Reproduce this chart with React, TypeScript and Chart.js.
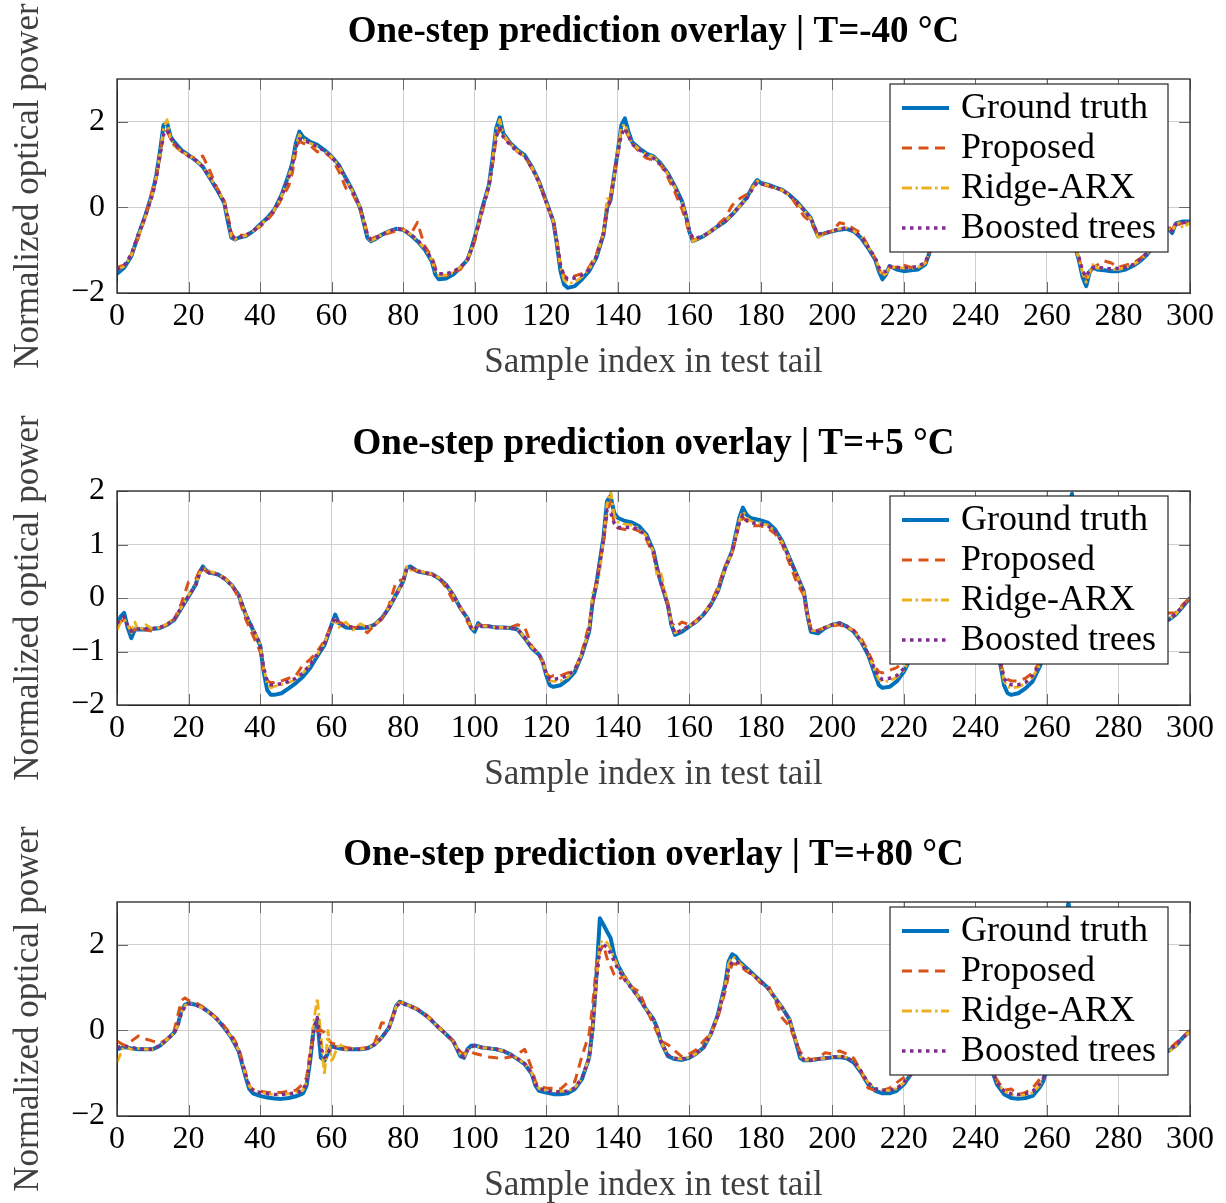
import React, { useEffect, useRef } from 'react';
import { Chart, registerables } from 'chart.js';
Chart.register(...registerables);

const FONT = "'Liberation Serif', 'Times New Roman', serif";
const SERIES_LABELS = ['Ground truth', 'Proposed', 'Ridge-ARX', 'Boosted trees'];
const SERIES_COLORS = ['#0072BD', '#D95319', '#EDB120', '#7E2F8E'];
const SERIES_WIDTHS = [4, 3, 2.8, 3.5];
const SERIES_DASHES: number[][] = [[], [10, 6.5], [10, 3.5, 2.5, 3.5], [3.5, 4.5]];
const X_TICKS = [0, 20, 40, 60, 80, 100, 120, 140, 160, 180, 200, 220, 240, 260, 280, 300];
const Y_TICKS_WIDE = [-2, 0, 2];
const Y_TICKS_NARROW = [-2, -1, 0, 1, 2];
const TITLES = [
  'One-step prediction overlay | T=-40 °C',
  'One-step prediction overlay | T=+5 °C',
  'One-step prediction overlay | T=+80 °C',
];
const X_LABEL = 'Sample index in test tail';
const Y_LABEL = 'Normalized optical power';

// ---------- Panel 1 : T = -40 C ----------
const p1X = [
  0, 2, 4, 6, 8, 10, 11, 12, 13, 14,
  15, 16, 18, 20, 22, 24, 26, 28, 30, 31,
  32, 33, 34, 36, 38, 40, 42, 44, 46, 48,
  49, 50, 51, 52, 54, 56, 58, 60, 62, 64,
  66, 68, 69, 70, 71, 72, 74, 76, 78, 80,
  82, 84, 86, 88, 89, 90, 92, 94, 96, 98,
  99, 100, 101, 102, 104, 105, 106, 107, 108, 110,
  112, 114, 116, 118, 120, 122, 123, 124, 125, 126,
  128, 130, 132, 134, 136, 137, 138, 139, 140, 141,
  142, 143, 144, 146, 148, 150, 152, 154, 156, 158,
  159, 160, 161, 162, 164, 166, 168, 170, 172, 174,
  176, 178, 179, 180, 182, 184, 186, 188, 190, 192,
  194, 195, 196, 198, 200, 202, 204, 206, 208, 210,
  212, 213, 214, 215, 216, 218, 220, 222, 224, 226,
  227, 228, 230, 232, 234, 236, 238, 240, 242, 244,
  246, 248, 250, 252, 254, 256, 258, 260, 262, 264,
  266, 268, 269, 270, 271, 272, 273, 274, 276, 278,
  280, 282, 284, 286, 288, 290, 292, 294, 295, 296,
  297, 298, 300,
];
const p1Truth = [
  -1.55, -1.41, -1.14, -0.64, -0.17, 0.37, 0.76, 1.30, 1.92, 1.98,
  1.65, 1.53, 1.34, 1.22, 1.10, 0.95, 0.68, 0.41, 0.10, -0.33,
  -0.71, -0.75, -0.71, -0.67, -0.56, -0.40, -0.25, -0.05, 0.29, 0.76,
  1.03, 1.50, 1.77, 1.65, 1.53, 1.46, 1.34, 1.19, 0.99, 0.68,
  0.37, -0.02, -0.36, -0.71, -0.79, -0.75, -0.64, -0.56, -0.50, -0.52,
  -0.64, -0.79, -0.98, -1.26, -1.57, -1.68, -1.66, -1.57, -1.41, -1.22,
  -0.98, -0.70, -0.40, -0.05, 0.53, 1.15, 1.84, 2.10, 1.73, 1.50,
  1.34, 1.22, 0.95, 0.60, 0.14, -0.33, -0.87, -1.49, -1.80, -1.88,
  -1.84, -1.68, -1.49, -1.18, -0.64, -0.02, 0.18, 0.76, 1.30, 1.92,
  2.08, 1.77, 1.53, 1.38, 1.26, 1.19, 1.03, 0.80, 0.49, 0.14,
  -0.17, -0.56, -0.79, -0.75, -0.67, -0.56, -0.44, -0.33, -0.17, 0.02,
  0.22, 0.53, 0.64, 0.57, 0.53, 0.47, 0.41, 0.29, 0.14, -0.05,
  -0.25, -0.48, -0.67, -0.60, -0.56, -0.52, -0.50, -0.56, -0.71, -0.95,
  -1.22, -1.49, -1.68, -1.57, -1.37, -1.45, -1.49, -1.47, -1.45, -1.33,
  -1.10, -0.80, -0.20, 0.50, 1.20, 1.60, 1.40, 1.20, 1.00, 0.70,
  0.30, -0.10, -0.40, -0.60, -0.60, -0.55, -0.50, -0.45, -0.50, -0.60,
  -0.75, -0.95, -1.26, -1.64, -1.84, -1.49, -1.41, -1.45, -1.47, -1.49,
  -1.49, -1.45, -1.37, -1.26, -1.10, -0.87, -0.65, -0.50, -0.60, -0.38,
  -0.35, -0.33, -0.33,
];
const p1Proposed = [
  -1.40, -1.35, -1.10, -0.70, -0.20, 0.45, 0.70, 1.20, 1.70, 1.80,
  1.60, 1.45, 1.30, 1.20, 1.15, 1.20, 0.85, 0.45, 0.15, -0.20,
  -0.60, -0.75, -0.65, -0.65, -0.55, -0.45, -0.30, -0.10, 0.20, 0.50,
  0.80, 1.30, 1.55, 1.50, 1.45, 1.30, 1.30, 1.15, 0.85, 0.45,
  0.30, -0.05, -0.30, -0.60, -0.75, -0.70, -0.65, -0.60, -0.55, -0.50,
  -0.65, -0.35, -0.90, -1.15, -1.40, -1.55, -1.60, -1.50, -1.45, -1.20,
  -1.05, -0.80, -0.45, -0.15, 0.50, 1.00, 1.60, 1.85, 1.65, 1.50,
  1.30, 1.20, 0.90, 0.60, 0.10, -0.30, -0.80, -1.35, -1.60, -1.65,
  -1.60, -1.55, -1.40, -1.10, -0.60, -0.10, 0.30, 0.75, 1.30, 1.80,
  1.85, 1.65, 1.50, 1.30, 1.15, 1.10, 1.00, 0.70, 0.35, -0.05,
  -0.30, -0.60, -0.75, -0.75, -0.70, -0.55, -0.40, -0.25, 0.05, 0.20,
  0.30, 0.50, 0.60, 0.55, 0.50, 0.45, 0.40, 0.30, 0.05, -0.20,
  -0.35, -0.50, -0.65, -0.60, -0.55, -0.36, -0.40, -0.50, -0.60, -0.90,
  -1.20, -1.45, -1.55, -1.50, -1.40, -1.40, -1.35, -1.40, -1.40, -1.30,
  -1.10, -0.85, -0.30, 0.40, 1.10, 1.50, 1.35, 1.15, 0.95, 0.65,
  0.30, -0.10, -0.40, -0.55, -0.60, -0.55, -0.50, -0.45, -0.50, -0.60,
  -0.70, -0.90, -1.20, -1.50, -1.65, -1.50, -1.40, -1.35, -1.25, -1.30,
  -1.40, -1.35, -1.30, -1.20, -1.05, -0.85, -0.60, -0.45, -0.55, -0.35,
  -0.40, -0.35, -0.35,
];
const p1Ridge = [
  -1.45, -1.38, -1.12, -0.66, -0.20, 0.33, 0.72, 1.25, 1.85, 2.05,
  1.60, 1.45, 1.30, 1.22, 1.10, 0.96, 0.70, 0.45, 0.12, -0.28,
  -0.68, -0.75, -0.70, -0.66, -0.56, -0.42, -0.26, -0.06, 0.26, 0.72,
  1.00, 1.45, 1.70, 1.60, 1.50, 1.42, 1.32, 1.18, 0.97, 0.66,
  0.36, 0.00, -0.32, -0.68, -0.78, -0.74, -0.64, -0.56, -0.50, -0.52,
  -0.62, -0.78, -0.96, -1.22, -1.50, -1.60, -1.58, -1.52, -1.40, -1.22,
  -1.00, -0.72, -0.42, -0.08, 0.50, 1.10, 1.80, 2.05, 1.70, 1.48,
  1.32, 1.20, 0.94, 0.58, 0.12, -0.32, -0.84, -1.40, -1.70, -1.78,
  -1.75, -1.62, -1.45, -1.15, -0.62, 0.20, 0.20, 0.74, 1.28, 1.88,
  1.95, 1.70, 1.50, 1.36, 1.24, 1.18, 1.02, 0.78, 0.47, 0.12,
  -0.18, -0.55, -0.80, -0.74, -0.66, -0.56, -0.44, -0.33, -0.16, 0.02,
  0.22, 0.50, 0.62, 0.56, 0.52, 0.46, 0.40, 0.28, 0.12, -0.06,
  -0.26, -0.46, -0.70, -0.60, -0.55, -0.50, -0.48, -0.55, -0.68, -0.92,
  -1.18, -1.42, -1.60, -1.55, -1.40, -1.40, -1.42, -1.42, -1.40, -1.30,
  -1.08, -0.80, -0.22, 0.48, 1.15, 1.55, 1.38, 1.18, 0.98, 0.68,
  0.28, -0.10, -0.40, -0.58, -0.60, -0.55, -0.50, -0.45, -0.50, -0.60,
  -0.74, -0.94, -1.22, -1.55, -1.75, -1.50, -1.30, -1.42, -1.42, -1.45,
  -1.45, -1.40, -1.35, -1.24, -1.08, -0.86, -0.64, -0.50, -0.56, -0.40,
  -0.36, -0.48, -0.35,
];
const p1Boosted = [
  -1.45, -1.36, -1.10, -0.62, -0.18, 0.32, 0.70, 1.20, 1.70, 1.80,
  1.62, 1.50, 1.32, 1.20, 1.10, 0.95, 0.70, 0.42, 0.12, -0.28,
  -0.66, -0.72, -0.70, -0.65, -0.56, -0.42, -0.26, -0.06, 0.26, 0.70,
  0.98, 1.40, 1.60, 1.58, 1.50, 1.42, 1.32, 1.18, 0.98, 0.66,
  0.36, 0.00, -0.32, -0.66, -0.75, -0.72, -0.64, -0.56, -0.50, -0.52,
  -0.62, -0.76, -0.95, -1.20, -1.45, -1.55, -1.55, -1.50, -1.40, -1.22,
  -1.00, -0.72, -0.42, -0.08, 0.50, 1.05, 1.65, 1.85, 1.65, 1.45,
  1.30, 1.20, 0.92, 0.58, 0.12, -0.32, -0.82, -1.35, -1.60, -1.68,
  -1.65, -1.58, -1.45, -1.15, -0.62, -0.05, 0.18, 0.72, 1.25, 1.70,
  1.85, 1.68, 1.48, 1.35, 1.22, 1.15, 1.00, 0.78, 0.47, 0.12,
  -0.18, -0.52, -0.72, -0.72, -0.66, -0.56, -0.44, -0.33, -0.16, 0.02,
  0.20, 0.48, 0.58, 0.55, 0.52, 0.46, 0.40, 0.28, 0.12, -0.06,
  -0.26, -0.46, -0.62, -0.60, -0.55, -0.50, -0.48, -0.55, -0.68, -0.92,
  -1.18, -1.40, -1.50, -1.50, -1.38, -1.40, -1.42, -1.40, -1.38, -1.28,
  -1.08, -0.80, -0.22, 0.46, 1.10, 1.48, 1.36, 1.16, 0.96, 0.68,
  0.28, -0.10, -0.40, -0.58, -0.60, -0.55, -0.50, -0.45, -0.50, -0.60,
  -0.74, -0.92, -1.18, -1.50, -1.62, -1.45, -1.40, -1.40, -1.42, -1.44,
  -1.42, -1.40, -1.34, -1.22, -1.06, -0.85, -0.63, -0.48, -0.55, -0.40,
  -0.38, -0.36, -0.33,
];

// ---------- Panel 2 : T = +5 C ----------
const p2X = [
  0, 1, 2, 3, 4, 5, 6, 8, 10, 12,
  14, 16, 18, 20, 22, 23, 24, 25, 26, 28,
  30, 32, 34, 36, 38, 40, 41, 42, 43, 44,
  46, 48, 50, 52, 54, 56, 58, 59, 60, 61,
  62, 64, 66, 68, 70, 72, 74, 76, 78, 80,
  81, 82, 84, 86, 88, 90, 92, 94, 96, 98,
  99, 100, 101, 102, 104, 106, 108, 110, 112, 114,
  116, 118, 119, 120, 121, 122, 124, 126, 128, 130,
  132, 133, 134, 135, 136, 137, 138, 139, 140, 142,
  144, 146, 148, 150, 151, 152, 154, 155, 156, 158,
  160, 162, 164, 166, 168, 170, 172, 174, 175, 176,
  177, 178, 180, 182, 184, 186, 188, 190, 192, 193,
  194, 196, 198, 200, 202, 204, 206, 208, 210, 212,
  213, 214, 216, 218, 220, 222, 224, 226, 228, 230,
  232, 234, 236, 238, 240, 242, 244, 246, 247, 248,
  249, 250, 252, 254, 256, 258, 259, 260, 262, 264,
  265, 266, 267, 268, 270, 272, 274, 276, 278, 280,
  282, 284, 286, 288, 290, 292, 294, 296, 298, 300,
];
const p2Truth = [
  -0.50, -0.35, -0.28, -0.56, -0.75, -0.59, -0.59, -0.59, -0.58, -0.56,
  -0.50, -0.41, -0.19, 0.03, 0.25, 0.47, 0.59, 0.51, 0.47, 0.45,
  0.37, 0.25, 0.06, -0.31, -0.59, -0.88, -1.38, -1.72, -1.81, -1.81,
  -1.78, -1.69, -1.59, -1.47, -1.31, -1.09, -0.88, -0.69, -0.50, -0.31,
  -0.47, -0.55, -0.56, -0.56, -0.55, -0.50, -0.38, -0.19, 0.06, 0.31,
  0.56, 0.59, 0.50, 0.47, 0.45, 0.37, 0.25, 0.06, -0.19, -0.38,
  -0.56, -0.63, -0.47, -0.53, -0.53, -0.55, -0.55, -0.56, -0.59, -0.75,
  -0.94, -1.06, -1.19, -1.44, -1.63, -1.66, -1.63, -1.53, -1.38, -1.06,
  -0.63, -0.06, 0.25, 0.69, 1.13, 1.81, 1.91, 1.59, 1.50, 1.44,
  1.41, 1.34, 1.19, 0.88, 0.56, 0.31, -0.13, -0.50, -0.69, -0.63,
  -0.53, -0.44, -0.31, -0.13, 0.13, 0.56, 0.88, 1.50, 1.69, 1.56,
  1.50, 1.48, 1.45, 1.41, 1.28, 1.06, 0.75, 0.44, 0.13, -0.31,
  -0.63, -0.66, -0.56, -0.50, -0.47, -0.53, -0.63, -0.81, -1.06, -1.44,
  -1.63, -1.68, -1.66, -1.56, -1.38, -1.10, -0.80, -0.50, -0.30, -0.10,
  0.20, 0.40, 0.30, 0.00, -0.30, -0.50, -0.70, -0.95, -1.25, -1.63,
  -1.78, -1.81, -1.78, -1.69, -1.56, -1.28, -1.10, -0.90, -0.40, 0.30,
  1.00, 1.70, 1.95, 1.50, 1.40, 1.30, 1.10, 0.80, 0.40, 0.00,
  -0.30, -0.50, -0.55, -0.55, -0.50, -0.45, -0.41, -0.31, -0.16, 0.00,
];
const p2Proposed = [
  -0.45, -0.45, -0.40, -0.50, -0.60, -0.60, -0.55, -0.60, -0.62, -0.55,
  -0.50, -0.40, -0.10, 0.30, 0.35, 0.50, 0.55, 0.50, 0.48, 0.45,
  0.38, 0.25, 0.00, -0.40, -0.70, -1.00, -1.35, -1.55, -1.58, -1.58,
  -1.55, -1.50, -1.45, -1.25, -1.15, -1.00, -0.80, -0.65, -0.50, -0.45,
  -0.45, -0.50, -0.55, -0.55, -0.65, -0.50, -0.40, -0.15, 0.30, 0.35,
  0.50, 0.55, 0.50, 0.48, 0.44, 0.38, 0.20, -0.05, -0.16, -0.45,
  -0.55, -0.55, -0.50, -0.52, -0.52, -0.55, -0.55, -0.55, -0.50, -0.55,
  -0.90, -1.06, -1.20, -1.40, -1.48, -1.45, -1.45, -1.40, -1.35, -1.00,
  -0.50, -0.10, 0.30, 0.70, 1.00, 1.60, 1.80, 1.40, 1.31, 1.28,
  1.30, 1.25, 1.10, 0.80, 0.50, 0.30, -0.10, -0.45, -0.55, -0.45,
  -0.50, -0.42, -0.30, -0.10, 0.20, 0.59, 0.85, 1.40, 1.50, 1.45,
  1.38, 1.35, 1.35, 1.30, 1.20, 1.00, 0.65, 0.30, 0.05, -0.35,
  -0.55, -0.60, -0.55, -0.52, -0.50, -0.55, -0.60, -0.75, -1.00, -1.30,
  -1.38, -1.40, -1.35, -1.30, -1.20, -1.05, -0.78, -0.50, -0.30, -0.10,
  0.18, 0.38, 0.28, 0.00, -0.28, -0.48, -0.68, -0.92, -1.20, -1.45,
  -1.52, -1.55, -1.55, -1.50, -1.40, -1.20, -1.05, -0.88, -0.40, 0.25,
  0.90, 1.55, 1.75, 1.40, 1.30, 1.20, 1.00, 0.75, 0.38, 0.00,
  -0.28, -0.48, -0.52, -0.52, -0.48, -0.42, -0.28, -0.28, -0.12, 0.00,
];
const p2Ridge = [
  -0.60, -0.45, -0.40, -0.50, -0.65, -0.45, -0.62, -0.50, -0.58, -0.55,
  -0.48, -0.40, -0.18, 0.05, 0.25, 0.45, 0.55, 0.55, 0.50, 0.45,
  0.38, 0.25, 0.06, -0.30, -0.58, -0.86, -1.30, -1.60, -1.68, -1.65,
  -1.62, -1.58, -1.52, -1.40, -1.25, -1.05, -0.85, -0.66, -0.48, -0.40,
  -0.55, -0.45, -0.60, -0.48, -0.55, -0.50, -0.38, -0.18, 0.06, 0.30,
  0.58, 0.52, 0.52, 0.48, 0.45, 0.38, 0.25, 0.06, -0.18, -0.38,
  -0.55, -0.60, -0.48, -0.52, -0.53, -0.55, -0.55, -0.56, -0.58, -0.74,
  -0.92, -1.05, -1.18, -1.40, -1.55, -1.56, -1.55, -1.48, -1.35, -1.04,
  -0.60, 0.10, 0.20, 0.50, 1.10, 1.75, 2.00, 1.55, 1.42, 1.38,
  1.36, 1.30, 1.16, 0.86, 0.40, 0.50, -0.12, -0.48, -0.65, -0.60,
  -0.52, -0.44, -0.30, -0.12, 0.14, 0.55, 0.86, 1.45, 1.62, 1.50,
  1.45, 1.42, 1.40, 1.36, 1.25, 1.04, 0.74, 0.44, 0.12, -0.28,
  -0.60, -0.62, -0.55, -0.50, -0.47, -0.53, -0.62, -0.80, -1.04, -1.38,
  -1.52, -1.56, -1.55, -1.48, -1.35, -1.08, -0.80, -0.50, -0.30, -0.10,
  0.20, 0.40, 0.30, 0.00, -0.30, -0.50, -0.70, -0.95, -1.22, -1.55,
  -1.66, -1.68, -1.66, -1.60, -1.48, -1.25, -1.08, -0.90, -0.40, 0.30,
  1.00, 1.60, 1.80, 1.50, 1.40, 1.30, 1.10, 0.80, 0.40, 0.00,
  -0.30, -0.50, -0.55, -0.55, -0.50, -0.45, -0.40, -0.30, -0.15, 0.00,
];
const p2Boosted = [
  -0.48, -0.40, -0.35, -0.52, -0.62, -0.58, -0.58, -0.58, -0.57, -0.55,
  -0.50, -0.40, -0.18, 0.03, 0.24, 0.44, 0.55, 0.50, 0.46, 0.44,
  0.36, 0.24, 0.06, -0.30, -0.58, -0.86, -1.30, -1.55, -1.62, -1.62,
  -1.60, -1.56, -1.50, -1.40, -1.25, -1.05, -0.86, -0.68, -0.50, -0.35,
  -0.48, -0.53, -0.55, -0.55, -0.54, -0.50, -0.38, -0.19, 0.05, 0.30,
  0.55, 0.58, 0.50, 0.47, 0.44, 0.37, 0.25, 0.06, -0.19, -0.38,
  -0.55, -0.60, -0.48, -0.53, -0.53, -0.55, -0.55, -0.56, -0.58, -0.74,
  -0.92, -1.05, -1.18, -1.40, -1.52, -1.52, -1.50, -1.45, -1.34, -1.04,
  -0.62, -0.06, 0.24, 0.66, 1.08, 1.65, 1.60, 1.40, 1.32, 1.32,
  1.32, 1.28, 1.15, 0.86, 0.55, 0.30, -0.13, -0.48, -0.66, -0.60,
  -0.52, -0.44, -0.30, -0.12, 0.13, 0.55, 0.86, 1.40, 1.55, 1.45,
  1.42, 1.40, 1.38, 1.35, 1.25, 1.04, 0.74, 0.44, 0.12, -0.28,
  -0.60, -0.62, -0.55, -0.50, -0.47, -0.53, -0.62, -0.80, -1.04, -1.35,
  -1.48, -1.52, -1.50, -1.45, -1.32, -1.08, -0.80, -0.50, -0.30, -0.10,
  0.20, 0.40, 0.30, 0.00, -0.30, -0.50, -0.70, -0.95, -1.22, -1.50,
  -1.60, -1.62, -1.62, -1.58, -1.45, -1.24, -1.08, -0.90, -0.40, 0.30,
  1.00, 1.60, 1.75, 1.50, 1.40, 1.30, 1.10, 0.80, 0.40, 0.00,
  -0.30, -0.50, -0.55, -0.55, -0.50, -0.45, -0.40, -0.30, -0.15, 0.00,
];

// ---------- Panel 3 : T = +80 C ----------
const p3X = [
  0, 2, 4, 6, 8, 10, 12, 14, 16, 17,
  18, 19, 20, 22, 24, 26, 28, 30, 32, 34,
  36, 37, 38, 40, 42, 44, 46, 48, 50, 52,
  53, 54, 55, 56, 57, 58, 59, 60, 62, 64,
  66, 68, 70, 72, 74, 76, 77, 78, 79, 80,
  82, 84, 86, 88, 90, 92, 94, 96, 97, 98,
  99, 100, 102, 104, 106, 108, 110, 112, 114, 116,
  117, 118, 120, 122, 124, 126, 128, 130, 132, 133,
  134, 135, 136, 137, 138, 139, 140, 142, 144, 146,
  148, 150, 151, 152, 154, 156, 158, 160, 162, 164,
  166, 168, 170, 171, 172, 173, 174, 176, 178, 180,
  182, 184, 186, 188, 190, 191, 192, 194, 196, 198,
  200, 202, 204, 206, 208, 210, 212, 214, 216, 218,
  220, 222, 224, 226, 228, 230, 232, 234, 236, 238,
  240, 242, 244, 245, 246, 248, 250, 252, 254, 256,
  258, 259, 260, 262, 264, 265, 266, 267, 268, 270,
  272, 274, 276, 278, 280, 282, 284, 286, 288, 290,
  292, 294, 296, 298, 300,
];
const p3Truth = [
  -0.44, -0.39, -0.42, -0.44, -0.44, -0.44, -0.36, -0.21, -0.05, 0.14,
  0.45, 0.60, 0.64, 0.60, 0.53, 0.41, 0.26, 0.06, -0.17, -0.48,
  -1.10, -1.37, -1.47, -1.53, -1.57, -1.59, -1.60, -1.58, -1.54, -1.47,
  -1.29, -0.71, 0.06, 0.26, -0.64, -0.71, -0.52, -0.36, -0.42, -0.44,
  -0.44, -0.44, -0.42, -0.33, -0.17, 0.06, 0.29, 0.57, 0.67, 0.64,
  0.57, 0.49, 0.37, 0.23, 0.06, -0.09, -0.25, -0.60, -0.64, -0.44,
  -0.36, -0.35, -0.40, -0.42, -0.44, -0.48, -0.56, -0.67, -0.79, -1.02,
  -1.29, -1.41, -1.45, -1.49, -1.49, -1.47, -1.37, -1.14, -0.64, 0.06,
  1.22, 2.62, 2.47, 2.31, 2.16, 1.77, 1.53, 1.22, 0.99, 0.76,
  0.49, 0.26, 0.06, -0.25, -0.60, -0.67, -0.69, -0.64, -0.54, -0.40,
  -0.09, 0.37, 1.07, 1.61, 1.78, 1.73, 1.61, 1.46, 1.30, 1.15,
  0.99, 0.76, 0.53, 0.26, -0.33, -0.64, -0.70, -0.70, -0.67, -0.65,
  -0.63, -0.62, -0.65, -0.75, -0.98, -1.26, -1.41, -1.47, -1.47, -1.41,
  -1.26, -1.02, -0.80, -0.50, -0.20, 0.10, 0.40, 0.60, 0.50, 0.30,
  0.00, -0.40, -0.80, -1.02, -1.26, -1.49, -1.58, -1.60, -1.58, -1.53,
  -1.33, -1.18, -0.90, -0.20, 1.20, 2.40, 2.98, 2.50, 2.20, 1.80,
  1.40, 1.00, 0.60, 0.20, -0.10, -0.30, -0.45, -0.55, -0.60, -0.60,
  -0.55, -0.48, -0.36, -0.17, -0.02,
];
const p3Proposed = [
  -0.25, -0.35, -0.25, -0.13, -0.20, -0.25, -0.30, -0.20, 0.00, 0.35,
  0.70, 0.76, 0.70, 0.65, 0.55, 0.42, 0.28, 0.10, -0.10, -0.40,
  -1.00, -1.30, -1.38, -1.42, -1.45, -1.45, -1.45, -1.42, -1.40, -1.25,
  -1.10, -0.50, -0.10, 0.00, 0.00, -0.05, -0.20, -0.30, -0.35, -0.40,
  -0.42, -0.42, -0.40, -0.30, 0.18, 0.15, 0.30, 0.55, 0.65, 0.65,
  0.58, 0.50, 0.40, 0.25, 0.08, -0.08, -0.25, -0.50, -0.55, -0.50,
  -0.50, -0.54, -0.58, -0.62, -0.64, -0.65, -0.62, -0.55, -0.44, -0.90,
  -1.20, -1.30, -1.35, -1.35, -1.37, -1.22, -1.20, -0.60, -0.09, 0.60,
  1.50, 1.85, 2.00, 1.69, 1.50, 1.30, 1.20, 1.26, 1.00, 0.91,
  0.50, 0.14, -0.05, -0.25, -0.33, -0.48, -0.62, -0.55, -0.45, -0.25,
  -0.08, 0.30, 0.90, 1.30, 1.55, 1.55, 1.52, 1.38, 1.28, 1.10,
  1.07, 0.70, 0.29, 0.10, -0.30, -0.50, -0.60, -0.68, -0.65, -0.52,
  -0.55, -0.48, -0.55, -0.65, -0.95, -1.35, -1.40, -1.40, -1.35, -1.22,
  -1.10, -0.95, -0.78, -0.48, -0.20, 0.08, 0.38, 0.58, 0.48, 0.28,
  0.00, -0.38, -0.78, -0.98, -1.15, -1.40, -1.37, -1.50, -1.45, -1.35,
  -1.14, -1.05, -0.85, -0.25, 1.00, 2.10, 2.60, 2.30, 2.00, 1.70,
  1.35, 0.95, 0.58, 0.20, -0.10, -0.30, -0.45, -0.55, -0.58, -0.58,
  -0.52, -0.45, -0.30, -0.15, 0.00,
];
const p3Ridge = [
  -0.75, -0.35, -0.45, -0.42, -0.44, -0.44, -0.36, -0.21, -0.06, 0.12,
  0.42, 0.58, 0.64, 0.60, 0.52, 0.40, 0.26, 0.06, -0.16, -0.46,
  -1.05, -1.30, -1.40, -1.45, -1.48, -1.50, -1.50, -1.48, -1.45, -1.40,
  -1.20, -0.60, 0.20, 0.76, -0.10, -1.05, 0.00, -0.75, -0.30, -0.46,
  -0.42, -0.44, -0.42, -0.33, -0.17, 0.06, 0.28, 0.55, 0.68, 0.64,
  0.57, 0.49, 0.37, 0.23, 0.06, -0.09, -0.25, -0.56, -0.62, -0.46,
  -0.40, -0.36, -0.40, -0.42, -0.44, -0.48, -0.56, -0.66, -0.78, -1.00,
  -1.25, -1.36, -1.40, -1.42, -1.42, -1.42, -1.34, -1.12, -0.64, 0.02,
  1.10, 2.05, 2.10, 2.05, 1.90, 1.70, 1.50, 1.22, 0.99, 0.76,
  0.49, 0.26, 0.06, -0.25, -0.58, -0.65, -0.67, -0.62, -0.54, -0.40,
  -0.09, 0.35, 1.02, 1.55, 1.72, 1.68, 1.58, 1.44, 1.28, 1.14,
  0.98, 0.76, 0.53, 0.26, -0.30, -0.60, -0.68, -0.70, -0.67, -0.65,
  -0.63, -0.60, -0.63, -0.72, -0.95, -1.22, -1.36, -1.40, -1.40, -1.36,
  -1.22, -1.00, -0.80, -0.50, -0.20, 0.10, 0.40, 0.60, 0.50, 0.30,
  0.00, -0.40, -0.80, -1.00, -1.22, -1.42, -1.50, -1.52, -1.50, -1.46,
  -1.28, -1.14, -0.90, -0.20, 1.10, 2.20, 2.70, 2.40, 2.10, 1.75,
  1.38, 1.00, 0.60, 0.20, -0.10, -0.30, -0.45, -0.55, -0.60, -0.60,
  -0.55, -0.50, -0.38, -0.18, -0.03,
];
const p3Boosted = [
  -0.40, -0.36, -0.40, -0.43, -0.44, -0.44, -0.36, -0.21, -0.06, 0.12,
  0.40, 0.56, 0.62, 0.60, 0.52, 0.40, 0.26, 0.06, -0.16, -0.46,
  -1.05, -1.30, -1.40, -1.45, -1.48, -1.50, -1.50, -1.48, -1.46, -1.40,
  -1.22, -0.66, 0.00, 0.30, -0.40, -0.64, -0.52, -0.38, -0.42, -0.44,
  -0.44, -0.44, -0.42, -0.33, -0.17, 0.05, 0.28, 0.54, 0.64, 0.62,
  0.56, 0.49, 0.37, 0.23, 0.06, -0.09, -0.25, -0.58, -0.62, -0.46,
  -0.38, -0.36, -0.40, -0.42, -0.44, -0.48, -0.56, -0.66, -0.78, -1.00,
  -1.25, -1.36, -1.40, -1.43, -1.44, -1.42, -1.34, -1.12, -0.64, 0.04,
  1.15, 1.90, 2.00, 1.95, 1.80, 1.62, 1.45, 1.18, 0.97, 0.74,
  0.48, 0.25, 0.06, -0.24, -0.58, -0.65, -0.67, -0.62, -0.53, -0.40,
  -0.09, 0.35, 1.00, 1.45, 1.60, 1.62, 1.56, 1.42, 1.28, 1.14,
  0.98, 0.75, 0.52, 0.26, -0.30, -0.60, -0.68, -0.70, -0.67, -0.65,
  -0.63, -0.60, -0.64, -0.73, -0.95, -1.22, -1.36, -1.40, -1.40, -1.36,
  -1.22, -1.00, -0.80, -0.50, -0.20, 0.10, 0.40, 0.60, 0.50, 0.30,
  0.00, -0.40, -0.80, -1.00, -1.22, -1.42, -1.48, -1.50, -1.48, -1.42,
  -1.26, -1.12, -0.90, -0.20, 1.05, 2.10, 2.60, 2.35, 2.05, 1.72,
  1.36, 0.98, 0.60, 0.20, -0.10, -0.30, -0.45, -0.55, -0.60, -0.60,
  -0.53, -0.46, -0.35, -0.17, -0.02,
];

const PANELS = [
  { title: TITLES[0], xs: p1X, series: [p1Truth, p1Proposed, p1Ridge, p1Boosted], yMax: 3, yTicks: Y_TICKS_WIDE, top: 0 },
  { title: TITLES[1], xs: p2X, series: [p2Truth, p2Proposed, p2Ridge, p2Boosted], yMax: 2, yTicks: Y_TICKS_NARROW, top: 412 },
  { title: TITLES[2], xs: p3X, series: [p3Truth, p3Proposed, p3Ridge, p3Boosted], yMax: 3, yTicks: Y_TICKS_WIDE, top: 823 },
];

const CANVAS_W = 1226;
const CANVAS_H = 380;

const fmt = (v: number | string) => String(v).replace('-', '\u2212');

const framePlugin = {
  id: 'frameAndLegend',
  afterDatasetsDraw(chart: any) {
    const { ctx, chartArea, scales } = chart;
    const { left, right, top, bottom } = chartArea;
    ctx.save();
    // inner tick marks
    ctx.strokeStyle = '#6a6a6a';
    ctx.lineWidth = 1;
    const tl = 11;
    ctx.beginPath();
    for (const t of scales.x.ticks) {
      const px = Math.round(scales.x.getPixelForValue(t.value)) + 0.5;
      ctx.moveTo(px, bottom);
      ctx.lineTo(px, bottom - tl);
      ctx.moveTo(px, top);
      ctx.lineTo(px, top + tl);
    }
    for (const t of scales.y.ticks) {
      const py = Math.round(scales.y.getPixelForValue(t.value)) + 0.5;
      ctx.moveTo(left, py);
      ctx.lineTo(left + tl, py);
      ctx.moveTo(right, py);
      ctx.lineTo(right - tl, py);
    }
    ctx.stroke();
    // frame
    ctx.strokeStyle = '#262626';
    ctx.lineWidth = 1.3;
    ctx.strokeRect(left, top, right - left, bottom - top);
    // legend
    const bx = right - 300;
    const by = top + 5;
    const bw = 278;
    const bh = 168;
    ctx.fillStyle = '#ffffff';
    ctx.fillRect(bx, by, bw, bh);
    ctx.strokeStyle = '#262626';
    ctx.lineWidth = 1.2;
    ctx.strokeRect(bx, by, bw, bh);
    ctx.font = `36px ${FONT}`;
    ctx.textBaseline = 'middle';
    ctx.textAlign = 'left';
    SERIES_LABELS.forEach((label, i) => {
      const ry = by + 24 + i * 40;
      ctx.save();
      ctx.strokeStyle = SERIES_COLORS[i];
      ctx.lineWidth = SERIES_WIDTHS[i];
      ctx.setLineDash(SERIES_DASHES[i]);
      ctx.beginPath();
      ctx.moveTo(bx + 12, ry);
      ctx.lineTo(bx + 59, ry);
      ctx.stroke();
      ctx.restore();
      ctx.fillStyle = '#000000';
      ctx.fillText(label, bx + 71, ry + 1);
    });
    ctx.restore();
  },
};

function Panel({ title, xs, series, yMax, yTicks, top }: any) {
  const ref = useRef<HTMLCanvasElement>(null);
  useEffect(() => {
    const datasets = series.map((vals: number[], i: number) => ({
      label: SERIES_LABELS[i],
      data: xs.map((x: number, j: number) => ({ x, y: vals[j] })),
      borderColor: SERIES_COLORS[i],
      backgroundColor: SERIES_COLORS[i],
      borderWidth: SERIES_WIDTHS[i],
      borderDash: SERIES_DASHES[i],
      pointRadius: 0,
      tension: 0,
      fill: false,
      order: 4 - i,
      borderJoinStyle: 'round',
    }));
    const chart = new Chart(ref.current as HTMLCanvasElement, {
      type: 'line',
      data: { datasets },
      options: {
        animation: false,
        responsive: false,
        maintainAspectRatio: false,
        events: [],
        layout: { padding: { left: 0, right: 36, top: 0, bottom: 0 } },
        plugins: {
          legend: { display: false },
          tooltip: { enabled: false },
          title: {
            display: true,
            text: title,
            fullSize: false,
            color: '#000000',
            font: { family: FONT, size: 37, weight: 'bold', lineHeight: 1.2 },
            padding: { top: 9.8, bottom: 24.8 },
          },
        },
        scales: {
          x: {
            type: 'linear',
            min: 0,
            max: 300,
            afterBuildTicks: (axis: any) => {
              axis.ticks = X_TICKS.map((v) => ({ value: v }));
            },
            afterFit: (axis: any) => {
              axis.height = 87;
            },
            ticks: {
              autoSkip: false,
              maxRotation: 0,
              padding: 4,
              color: '#000000',
              font: { family: FONT, size: 32, lineHeight: 1.2 },
              callback: (v: any) => fmt(v),
            },
            grid: { color: '#d0d0d0', lineWidth: 1, drawTicks: false },
            border: { display: true, color: '#262626', width: 1 },
            title: {
              display: true,
              text: X_LABEL,
              color: '#404040',
              font: { family: FONT, size: 35, lineHeight: 1.0 },
              padding: { top: 0, bottom: 0 },
            },
          },
          y: {
            type: 'linear',
            min: -2,
            max: yMax,
            afterBuildTicks: (axis: any) => {
              axis.ticks = yTicks.map((v: number) => ({ value: v }));
            },
            afterFit: (axis: any) => {
              axis.width = 117;
            },
            ticks: {
              padding: 12,
              color: '#000000',
              font: { family: FONT, size: 32, lineHeight: 1.2 },
              callback: (v: any) => fmt(v),
            },
            grid: { color: '#d0d0d0', lineWidth: 1, drawTicks: false },
            border: { display: true, color: '#262626', width: 1 },
            title: {
              display: true,
              text: Y_LABEL,
              color: '#404040',
              font: { family: FONT, size: 35, lineHeight: 1.2 },
              padding: { top: 8, bottom: 0 },
            },
          },
        },
      },
      plugins: [framePlugin],
    } as any);
    return () => chart.destroy();
  }, []);
  return (
    <canvas
      ref={ref}
      width={CANVAS_W}
      height={CANVAS_H}
      style={{ position: 'absolute', left: 0, top, width: CANVAS_W, height: CANVAS_H, display: 'block' }}
    />
  );
}

export default function App() {
  useEffect(() => {
    document.body.style.margin = '0';
    document.body.style.overflow = 'hidden';
  }, []);
  return (
    <div style={{ position: 'absolute', left: 0, top: 0, width: 1226, height: 1203, background: '#ffffff', overflow: 'hidden' }}>
      {PANELS.map((p, i) => (
        <Panel key={i} {...p} />
      ))}
    </div>
  );
}
